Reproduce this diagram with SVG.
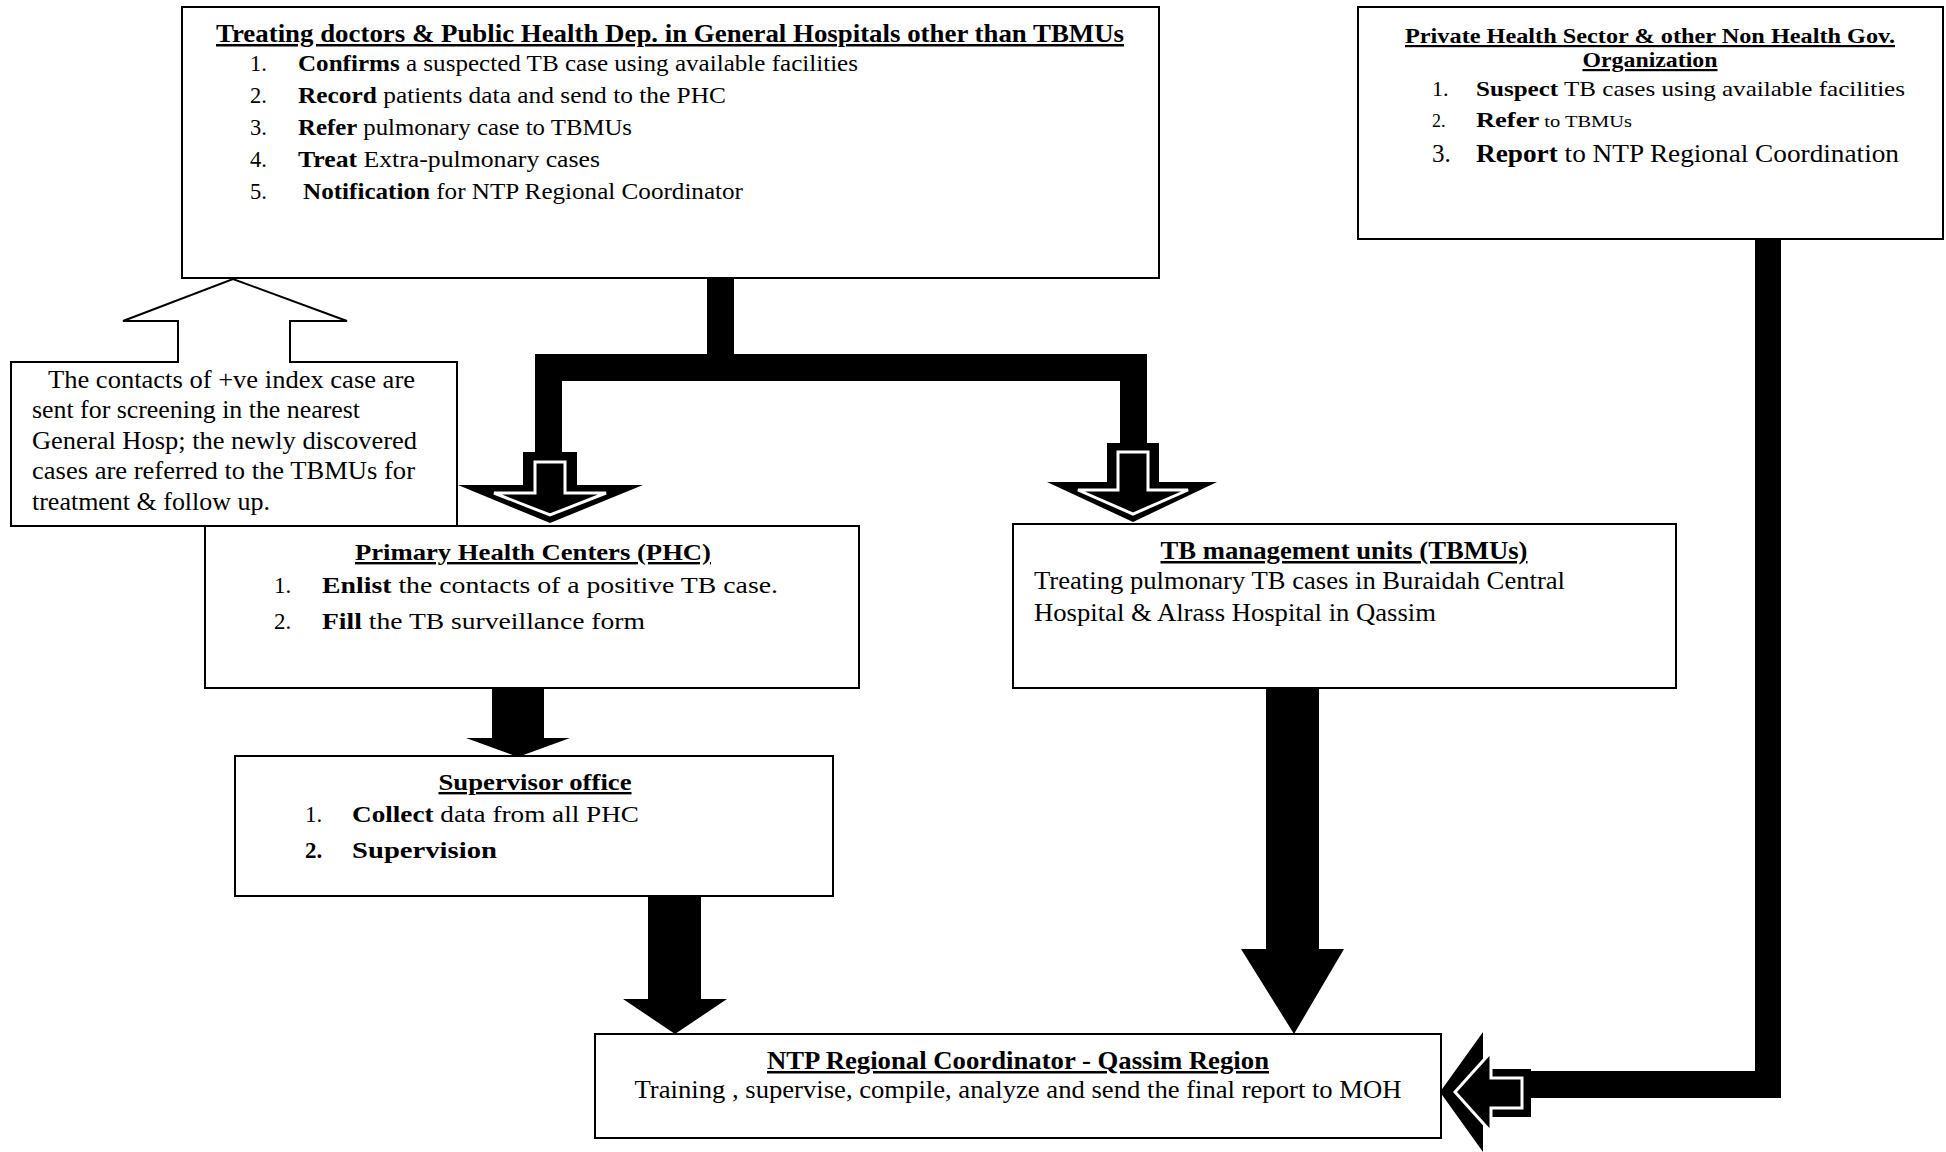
<svg xmlns="http://www.w3.org/2000/svg" width="1946" height="1152" viewBox="0 0 1946 1152">
<style>
.box{fill:#fff;stroke:#000;stroke-width:2}
.t{font-family:"Liberation Serif","Times New Roman",serif;fill:#000}
.ttl{font-weight:bold;text-decoration:underline}
.b{font-weight:bold}
.con{fill:#000}
.inner{fill:#000;stroke:#fff;stroke-width:3;stroke-linejoin:miter}
</style>
<rect width="1946" height="1152" fill="#fff"/>

<g id="connectors">
  <!-- from general hospitals to PHC / TBMU -->
  <rect class="con" x="707" y="278" width="27" height="80"/>
  <rect class="con" x="535" y="354" width="612" height="27"/>
  <rect class="con" x="535" y="354" width="27" height="100"/>
  <rect class="con" x="1120" y="354" width="27" height="91"/>
  <polygon class="con" points="523,452 577,452 577,485 643,485 550,523 458,485 523,485"/>
  <polygon class="inner" points="535,462 565,462 565,493 606,493 550,515 494,493 535,493"/>
  <polygon class="con" points="1107,443 1159,443 1159,482 1217,482 1133,522 1047,482 1107,482"/>
  <polygon class="inner" points="1118,452 1148,452 1148,490 1188,490 1133,514 1078,490 1118,490"/>
  <!-- PHC to supervisor -->
  <polygon class="con" points="492,688 544,688 544,738 570,738 518,757 466,738 492,738"/>
  <!-- supervisor to NTP -->
  <polygon class="con" points="648,896 701,896 701,999 727,999 675,1034 623,999 648,999"/>
  <!-- TBMU to NTP -->
  <polygon class="con" points="1266,688 1319,688 1319,949 1344,949 1294,1034 1241,949 1266,949"/>
  <!-- private sector to NTP -->
  <rect class="con" x="1755" y="239" width="26" height="859"/>
  <rect class="con" x="1528" y="1071" width="253" height="27"/>
  <polygon class="con" points="1531,1069 1531,1117 1483,1117 1483,1152 1440,1092 1483,1032 1483,1069"/>
  <polygon class="inner" points="1522,1078 1522,1108 1491,1108 1491,1132 1455,1092 1491,1052 1491,1078"/>
</g>

<g id="general-hospitals">
  <rect class="box" x="182" y="7" width="977" height="271"/>
  <text class="t ttl" x="670" y="42" font-size="25" text-anchor="middle" textLength="908" lengthAdjust="spacingAndGlyphs">Treating doctors &amp; Public Health Dep. in General Hospitals other than TBMUs</text>
  <g class="t" font-size="22.5">
    <text x="250" y="71">1.</text>
    <text x="298" y="71" textLength="560" lengthAdjust="spacingAndGlyphs"><tspan class="b">Confirms</tspan> a suspected TB case using available facilities</text>
    <text x="250" y="103">2.</text>
    <text x="298" y="103" textLength="428" lengthAdjust="spacingAndGlyphs"><tspan class="b">Record</tspan> patients data and send to the PHC</text>
    <text x="250" y="135">3.</text>
    <text x="298" y="135" textLength="334" lengthAdjust="spacingAndGlyphs"><tspan class="b">Refer</tspan> pulmonary case to TBMUs</text>
    <text x="250" y="167">4.</text>
    <text x="298" y="167" textLength="302" lengthAdjust="spacingAndGlyphs"><tspan class="b">Treat</tspan> Extra-pulmonary cases</text>
    <text x="250" y="199">5.</text>
    <text x="303" y="199" textLength="440" lengthAdjust="spacingAndGlyphs"><tspan class="b">Notification</tspan> for NTP Regional Coordinator</text>
  </g>
</g>

<g id="private-sector">
  <rect class="box" x="1358" y="7" width="585" height="232"/>
  <text class="t ttl" x="1650" y="43" font-size="22" text-anchor="middle" textLength="490" lengthAdjust="spacingAndGlyphs">Private Health Sector &amp; other Non Health Gov.</text>
  <text class="t ttl" x="1650" y="67" font-size="22" text-anchor="middle" textLength="135" lengthAdjust="spacingAndGlyphs">Organization</text>
  <text class="t" x="1432" y="96" font-size="22">1.</text>
  <text class="t" x="1476" y="96" font-size="22" textLength="429" lengthAdjust="spacingAndGlyphs"><tspan class="b">Suspect</tspan> TB cases using available facilities</text>
  <text class="t" x="1432" y="127" font-size="18">2.</text>
  <text class="t" x="1476" y="127" font-size="22" textLength="156" lengthAdjust="spacingAndGlyphs"><tspan class="b">Refer</tspan><tspan font-size="17"> to TBMUs</tspan></text>
  <text class="t" x="1432" y="162" font-size="25">3.</text>
  <text class="t" x="1476" y="162" font-size="26" textLength="423" lengthAdjust="spacingAndGlyphs"><tspan class="b">Report</tspan> to NTP Regional Coordination</text>
</g>

<g id="contacts-callout">
  <path class="box" d="M11,362 H178 V321 H123 L233,279 L347,321 H290 V362 H457 V526 H11 Z"/>
  <g class="t" font-size="25">
    <text x="48" y="388" textLength="367" lengthAdjust="spacingAndGlyphs">The contacts of +ve index case are</text>
    <text x="32" y="418" textLength="328" lengthAdjust="spacingAndGlyphs">sent for screening in the nearest</text>
    <text x="32" y="449" textLength="385" lengthAdjust="spacingAndGlyphs">General Hosp; the newly discovered</text>
    <text x="32" y="479" textLength="383" lengthAdjust="spacingAndGlyphs">cases are referred to the TBMUs for</text>
    <text x="32" y="510" textLength="238" lengthAdjust="spacingAndGlyphs">treatment &amp; follow up.</text>
  </g>
</g>

<g id="phc">
  <rect class="box" x="205" y="526" width="654" height="162"/>
  <text class="t ttl" x="533" y="560" font-size="24" text-anchor="middle" textLength="356" lengthAdjust="spacingAndGlyphs">Primary Health Centers (PHC)</text>
  <text class="t" x="274" y="593" font-size="23">1.</text>
  <text class="t" x="322" y="593" font-size="23" textLength="456" lengthAdjust="spacingAndGlyphs"><tspan class="b">Enlist</tspan> the contacts of a positive TB case.</text>
  <text class="t" x="274" y="629" font-size="23">2.</text>
  <text class="t" x="322" y="629" font-size="23" textLength="323" lengthAdjust="spacingAndGlyphs"><tspan class="b">Fill</tspan> the TB surveillance form</text>
</g>

<g id="supervisor">
  <rect class="box" x="235" y="756" width="598" height="140"/>
  <text class="t ttl" x="535" y="790" font-size="24" text-anchor="middle" textLength="193" lengthAdjust="spacingAndGlyphs">Supervisor office</text>
  <text class="t" x="305" y="822" font-size="23">1.</text>
  <text class="t" x="352" y="822" font-size="23" textLength="287" lengthAdjust="spacingAndGlyphs"><tspan class="b">Collect</tspan> data from all PHC</text>
  <text class="t b" x="305" y="858" font-size="23">2.</text>
  <text class="t b" x="352" y="858" font-size="23" textLength="145" lengthAdjust="spacingAndGlyphs">Supervision</text>
</g>

<g id="tbmu">
  <rect class="box" x="1013" y="524" width="663" height="164"/>
  <text class="t ttl" x="1344" y="559" font-size="25" text-anchor="middle" textLength="367" lengthAdjust="spacingAndGlyphs">TB management units (TBMUs)</text>
  <text class="t" x="1034" y="589" font-size="25" textLength="531" lengthAdjust="spacingAndGlyphs">Treating pulmonary TB cases in Buraidah Central</text>
  <text class="t" x="1034" y="621" font-size="25" textLength="402" lengthAdjust="spacingAndGlyphs">Hospital &amp; Alrass Hospital in Qassim</text>
</g>

<g id="ntp">
  <rect class="box" x="595" y="1034" width="846" height="104"/>
  <text class="t ttl" x="1018" y="1069" font-size="25" text-anchor="middle" textLength="502" lengthAdjust="spacingAndGlyphs">NTP Regional Coordinator - Qassim Region</text>
  <text class="t" x="1018" y="1098" font-size="25" text-anchor="middle" textLength="767" lengthAdjust="spacingAndGlyphs">Training , supervise, compile, analyze and send the final report to MOH</text>
</g>
</svg>
